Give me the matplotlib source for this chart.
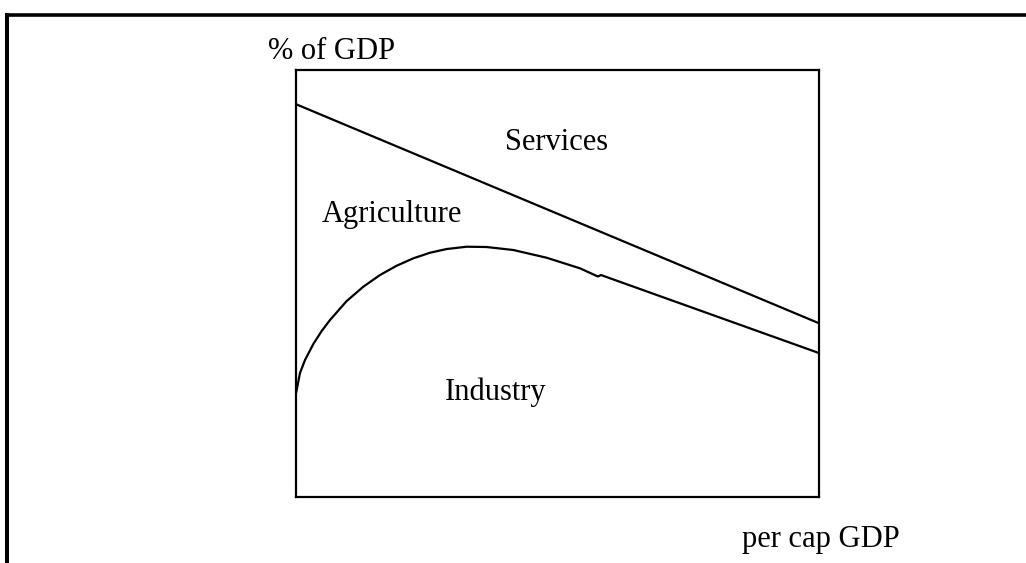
import matplotlib.pyplot as plt
from matplotlib.lines import Line2D

plt.rcParams['font.family'] = ['Liberation Serif', 'DejaVu Serif']

# share of GDP (schematic), x = per capita GDP on a 0-100 scale
services_x = [0, 100]
services_y = [92.0, 40.7]

industry_x = [0, 0.13, 0.76, 1.72, 3.31, 4.91, 6.50, 9.69, 12.87, 16.06, 19.25,
              22.43, 25.62, 28.81, 32.64, 36.46, 41.55, 47.93, 54.30, 57.74,
              58.32, 100]
industry_y = [24.36, 25.06, 29.04, 32.08, 35.83, 38.88, 41.45, 45.90, 49.25,
              51.99, 54.17, 55.90, 57.21, 58.08, 58.62, 58.55, 57.85, 56.04,
              53.56, 51.64, 51.99, 33.72]

sector_labels = ['Services', 'Agriculture', 'Industry']
label_x = [40.0, 5.0, 28.5]
label_y = [81.3, 64.4, 22.7]

fig = plt.figure(figsize=(10.26, 5.63), dpi=100)
ax = fig.add_axes([0.2885, 0.1172, 0.5097, 0.7584])

ax.plot(services_x, services_y, color='black', lw=1.6)
ax.plot(industry_x, industry_y, color='black', lw=1.6, solid_joinstyle='round')

for name, tx, ty in zip(sector_labels, label_x, label_y):
    ax.text(tx, ty, name, fontsize=22, va='baseline', ha='left')

ax.set_xlim(0, 100)
ax.set_ylim(0, 100)
ax.set_xticks([])
ax.set_yticks([])
for s in ax.spines.values():
    s.set_linewidth(1.6)

fig.text(0.2612, 0.8952, '% of GDP', fontsize=22, va='baseline')
fig.text(0.7232, 0.0284, 'per cap GDP', fontsize=22, va='baseline')

# outer frame (top and left only)
fig.add_artist(Line2D([0.0073, 1.0], [0.9742, 0.9742], color='black', lw=2.6))
fig.add_artist(Line2D([0.0073, 0.0073], [0.9742, 0.0], color='black', lw=2.9))

plt.savefig('out.png', dpi=100)
